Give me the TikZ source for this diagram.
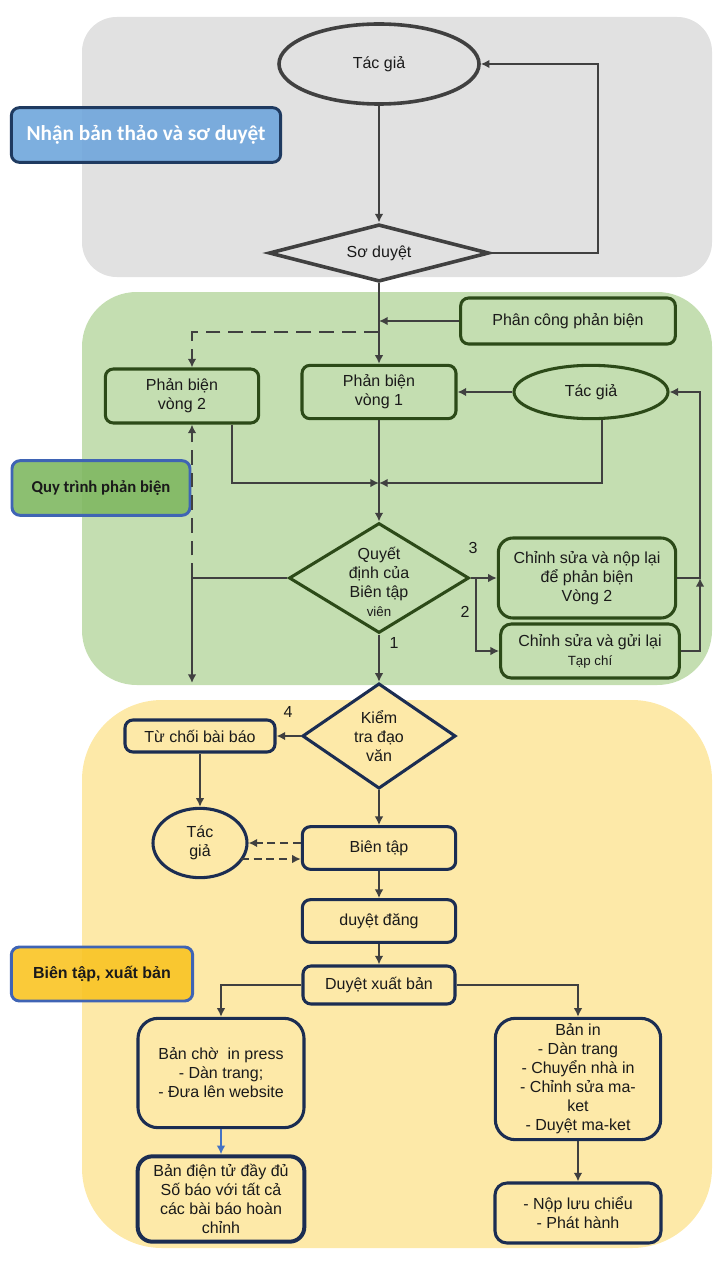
\documentclass[tikz,border=0pt]{standalone}
\usepackage{fontspec}
\setmainfont{Liberation Sans}
\newfontfamily\tagfont{Carlito}
\usetikzlibrary{shapes.geometric}
\usetikzlibrary{arrows.meta}
\usetikzlibrary{calc}

\definecolor{panelgray}{HTML}{E1E1E1}
\definecolor{panelgreen}{HTML}{C4DEB1}
\definecolor{panelyellow}{HTML}{FDE9A8}
\definecolor{tagblue}{HTML}{6FA6DC}
\definecolor{tagnavy}{HTML}{1F3A60}
\definecolor{taggreen}{HTML}{80B862}
\definecolor{taggold}{HTML}{F9C423}
\definecolor{tagedge}{HTML}{3F64B4}
\definecolor{linegray}{HTML}{404040}
\definecolor{boxgreen}{HTML}{2C4A18}
\definecolor{boxnavy}{HTML}{1B2D52}
\definecolor{arrowblue}{HTML}{4472C4}
\definecolor{textdark}{HTML}{1A1A1A}

\begin{document}
\begin{tikzpicture}[x=0.75pt,y=-0.75pt,
  every node/.style={font=\fontsize{12}{14.3}\selectfont, text=textdark, align=center}]
\tikzstyle{arr}=[draw=linegray, line width=2.2pt, -{Latex[length=6.5pt,width=6.5pt]}]
\tikzstyle{plain}=[draw=linegray, line width=2.2pt]
\tikzstyle{darr}=[arr, dash pattern=on 11pt off 6pt]
\tikzstyle{sdarr}=[arr, dash pattern=on 6pt off 3.5pt]
\tikzstyle{barr}=[draw=arrowblue, line width=2.2pt, -{Latex[length=6.5pt,width=6.5pt]}]
\tikzstyle{gshape}=[draw=linegray, line width=2.7pt, fill=panelgray, inner sep=0pt]
\tikzstyle{gbox}=[draw=boxgreen, line width=2.3pt, fill=panelgreen, rounded corners=6pt, inner sep=0pt]
\tikzstyle{ybox}=[draw=boxnavy, line width=2.3pt, fill=panelyellow, rounded corners=6pt, inner sep=0pt]
\tikzstyle{tagbox}=[line width=2.2pt, rounded corners=6pt, fill opacity=0.9, text opacity=1, inner sep=0pt]
\useasboundingbox (0,0) rectangle (720,1280);

% panels
\fill[panelgray, rounded corners=26pt] (82,17) rectangle (712,277);
\fill[panelgreen, rounded corners=41pt] (82,292) rectangle (712,685);
\fill[panelyellow, rounded corners=60pt] (82,700) rectangle (712,1248);

% stage labels
\node[tagbox, draw=tagnavy, fill=tagblue, minimum width=202pt, minimum height=41pt,
  text=white, font=\tagfont\bfseries\fontsize{16}{18}\selectfont] (tagA) at (146,135) {Nhận bản thảo và sơ duyệt};
\node[tagbox, draw=tagedge, fill=taggreen, minimum width=133.5pt, minimum height=41pt,
  font=\tagfont\bfseries\fontsize{12.5}{15}\selectfont] (tagB) at (101,488) {Quy trình phản biện};
\node[tagbox, draw=tagedge, fill=taggold, minimum width=136pt, minimum height=40.5pt,
  font=\bfseries\fontsize{12}{14}\selectfont] (tagC) at (102,974) {Biên tập, xuất bản};

% receiving
\node[gshape, ellipse, minimum width=150pt, minimum height=60pt] (tgA) at (379,64) {Tác giả};
\node[gshape, diamond, minimum width=165pt, minimum height=43pt, shape aspect=3.8] (sd) at (379,253) {Sơ duyệt};

% review
\node[gbox, minimum width=161pt, minimum height=34.5pt] (pcpb) at (568,321) {Phân công phản biện};
\node[gbox, minimum width=115pt, minimum height=40.5pt] (pb2) at (182,396) {Phản biện\\vòng 2};
\node[gbox, minimum width=115.5pt, minimum height=40pt] (pb1) at (379,392) {Phản biện\\vòng 1};
\node[gbox, ellipse, rounded corners=0pt, minimum width=115.5pt, minimum height=40pt] (tgB) at (591,392) {Tác giả};
\node[gbox, diamond, rounded corners=0pt, minimum width=135pt, minimum height=82.5pt] (qd) at (379,578) {};
\node (qdtext) at ([yshift=-3pt]qd.center) {Quyết\\định của\\Biên tập\\{\fontsize{10}{12}\selectfont viên}};
\node[gbox, rounded corners=11pt, minimum width=133pt, minimum height=60pt] (cs1) at (587,578) {Chỉnh sửa và nộp lại\\để phản biện\\Vòng 2};
\node[gbox, rounded corners=8pt, minimum width=134pt, minimum height=40.5pt] (cs2) at (590,651) {Chỉnh sửa và gửi lại\\{\fontsize{10}{12}\selectfont Tạp chí}};
\node (n3) at (473,548) {3};
\node (n2) at (465,612) {2};
\node (n1) at (394,643) {1};

% editing and publishing
\node[ybox, diamond, rounded corners=0pt, minimum width=115pt, minimum height=79pt, shape aspect=1.46] (kt) at (379,736) {Kiểm\\tra đạo\\văn};
\node[ybox, minimum width=112.5pt, minimum height=24pt] (tc) at (200,736) {Từ chối bài báo};
\node[ybox, ellipse, rounded corners=0pt, minimum width=70.5pt, minimum height=52pt] (tgC) at (200,843) {Tác\\giả};
\node[ybox, minimum width=115pt, minimum height=32pt] (bt) at (379,848) {Biên tập};
\node[ybox, minimum width=115pt, minimum height=32pt] (dd) at (379,921) {duyệt đăng};
\node[ybox, minimum width=114pt, minimum height=28.5pt] (dxb) at (379,985) {Duyệt xuất bản};
\node[ybox, rounded corners=15pt, minimum width=124.5pt, minimum height=82pt] (bc) at (221,1073) {Bản chờ~ in press\\- Dàn trang;\\- Đưa lên website};
\node[ybox, rounded corners=15pt, minimum width=124pt, minimum height=91pt] (bi) at (578,1079) {Bản in\\- Dàn trang\\- Chuyển nhà in\\- Chỉnh sửa ma-\\ket\\- Duyệt ma-ket};
\node[ybox, line width=3pt, rounded corners=11pt, minimum width=125pt, minimum height=64pt] (bdt) at (221,1199) {Bản điện tử đầy đủ\\Số báo với tất cả\\các bài báo hoàn\\chỉnh};
\node[ybox, rounded corners=9pt, minimum width=124.5pt, minimum height=45pt] (nlc) at (578,1213) {- Nộp lưu chiểu\\- Phát hành};
\node (n4) at (288,712) {4};

% bend points
\coordinate (sdR) at (598,253);
\coordinate (pbSplit) at (379,332);
\coordinate (pbMerge) at (379,483);
\coordinate (qdL) at (192,578);
\coordinate (qdDown) at (192,683);
\coordinate (qdR) at (476,578);
\coordinate (csR) at (700,578);
\coordinate (tgCout) at (241,859);

% connectors, receiving
\draw[arr] (tgA.south) -- (sd.north);
\draw[arr] (sd.east) -- (sdR) |- (tgA.east);
\draw[arr] (sd.south) -- (pb1.north);

% connectors, review
\draw[arr] (pcpb.west) -- (pcpb.west -| pb1.north);
\draw[darr] (pbSplit) -| ([xshift=7.5pt]pb2.north);
\draw[arr] ([xshift=37.5pt]pb2.south) |- (pbMerge);
\draw[arr] ([xshift=8.25pt]tgB.south) |- (pbMerge);
\draw[arr] (tgB.west) -- (pb1.east);
\draw[arr] (pb1.south) -- (qd.north);
\draw[plain] (qd.west) -- (qdL);
\draw[darr] (qdL) -- ([xshift=7.5pt]pb2.south);
\draw[arr] (qdL) -- (qdDown);
\draw[arr] (qd.east) -- (cs1.west);
\draw[arr] (qdR) |- (cs2.west);
\draw[arr] (cs1.east) -- (csR) |- (tgB.east);
\draw[arr] (cs2.east) -| (csR);

% connectors, editing and publishing
\draw[arr] (qd.south) -- (kt.north);
\draw[arr] (kt.west) -- (tc.east);
\draw[arr] (tc.south) -- (tgC.north);
\draw[arr] (kt.south) -- (bt.north);
\draw[sdarr] (bt.west |- tgC.east) -- (tgC.east);
\draw[sdarr] (tgCout) -- (tgCout -| bt.west);
\draw[arr] (bt.south) -- (dd.north);
\draw[arr] (dd.south) -- (dxb.north);
\draw[arr] (dxb.west) -| (bc.north);
\draw[arr] (dxb.east) -| (bi.north);
\draw[barr] (bc.south) -- (bdt.north);
\draw[arr] (bi.south) -- (nlc.north);
\end{tikzpicture}
\end{document}
